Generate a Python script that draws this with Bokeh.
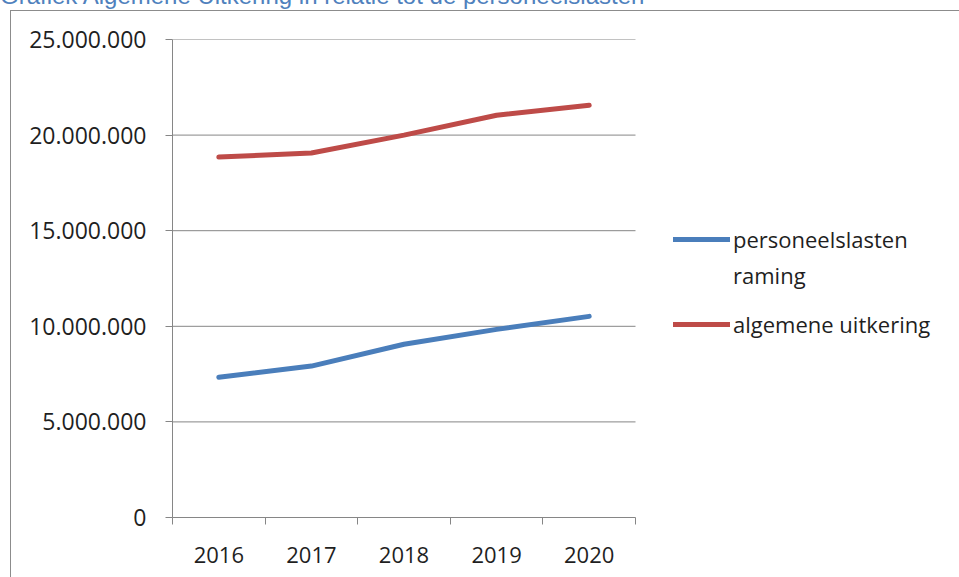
from bokeh.plotting import figure
from bokeh.models import Range1d, FixedTicker, Legend, LegendItem, Div
from bokeh.layouts import column
from bokeh.embed import file_html
from bokeh.resources import INLINE

years = ["2016", "2017", "2018", "2019", "2020"]
personeelslasten_raming = [7340000, 7920000, 9060000, 9840000, 10520000]
algemene_uitkering = [18850000, 19060000, 20000000, 21040000, 21560000]
y_tick_values = [0, 5000000, 10000000, 15000000, 20000000, 25000000]
y_tick_labels = ["0", "5.000.000", "10.000.000", "15.000.000", "20.000.000", "25.000.000"]
title_text = "Grafiek Algemene Uitkering in relatie tot de personeelslasten"
legend_labels = ["personeelslasten", "raming", "algemene uitkering"]

FONT = "Open Sans"
GRID = "#868686"
TEXT = "#1f1f1f"

W = 959
TITLE_H = 10
H = 577 - TITLE_H
LEFT, PLOT_RIGHT, FRAME_RIGHT = 172, 635, 957
TOP, BOTTOM = 39 - TITLE_H, 517 - TITLE_H

n = len(years)
x_pos = [i + 0.5 for i in range(n)]
x_bounds = [i for i in range(n + 1)]
px_per_unit = (PLOT_RIGHT - LEFT) / n
x_end = n + (FRAME_RIGHT - PLOT_RIGHT) / px_per_unit

border_css = ("linear-gradient(#8c8c8c,#8c8c8c) 10px 0px / 100% 1px no-repeat, "
              "linear-gradient(#8c8c8c,#8c8c8c) 10px 0px / 1px 100% no-repeat")

title_div = Div(text=title_text, width=W, height=TITLE_H, margin=(0, 0, 0, 0),
                styles={"position": "relative", "top": "-16px", "font-family": "Liberation Sans",
                        "font-size": "24px", "line-height": "24px", "color": "#4f81bd",
                        "white-space": "nowrap"})

p = figure(width=W, height=H, output_backend="svg", toolbar_location=None,
           x_range=Range1d(0, x_end), y_range=Range1d(0, y_tick_values[-1]),
           min_border_left=LEFT, min_border_right=W - FRAME_RIGHT,
           min_border_top=TOP, min_border_bottom=H - BOTTOM,
           margin=(0, 0, 0, 0),
           styles={"background": border_css})
p.outline_line_color = None
p.background_fill_alpha = 0
p.border_fill_alpha = 0

p.xgrid.visible = False
p.ygrid.visible = False
grid_y = y_tick_values[1:]
p.segment(x0=[0] * len(grid_y), x1=[n] * len(grid_y), y0=grid_y, y1=grid_y,
          line_color=GRID, line_width=1)

ya = p.yaxis[0]
ya.ticker = FixedTicker(ticks=y_tick_values)
ya.major_label_overrides = {v: l for v, l in zip(y_tick_values, y_tick_labels)}
ya.axis_line_color = GRID
ya.major_tick_line_color = GRID
ya.major_tick_out = 7
ya.major_tick_in = 0
ya.minor_tick_line_color = None
ya.major_label_standoff = 19
ya.major_label_text_font = FONT
ya.major_label_text_font_size = "23px"
ya.major_label_text_color = TEXT

xa = p.xaxis[0]
xa.bounds = (0, n)
xa.ticker = FixedTicker(ticks=x_pos, minor_ticks=x_bounds)
xa.major_label_overrides = {v: l for v, l in zip(x_pos, years)}
xa.axis_line_color = GRID
xa.major_tick_line_color = None
xa.minor_tick_line_color = GRID
xa.minor_tick_out = 7
xa.minor_tick_in = 0
xa.major_label_standoff = 22
xa.major_label_text_font = FONT
xa.major_label_text_font_size = "22px"
xa.major_label_text_color = TEXT

r_blue = p.line(x_pos, personeelslasten_raming, line_color="#4a7ebb", line_width=5, line_cap="round")
r_red = p.line(x_pos, algemene_uitkering, line_color="#be4b48", line_width=5, line_cap="round")
r_dummy = p.line([], [], line_alpha=0)

common = dict(glyph_width=57, glyph_height=30, label_height=30, label_standoff=3, spacing=6,
              padding=0, margin=0, border_line_color=None, background_fill_alpha=0,
              label_text_font=FONT, label_text_font_size="22px", label_text_color=TEXT)
leg_a = Legend(items=[LegendItem(label=legend_labels[0], renderers=[r_blue]),
                      LegendItem(label=legend_labels[1], renderers=[r_dummy])],
               location=(501, 227), **common)
leg_b = Legend(items=[LegendItem(label=legend_labels[2], renderers=[r_red])],
               location=(501, 178), **common)
p.add_layout(leg_a)
p.add_layout(leg_b)

layout = column(title_div, p, spacing=0)
open("out.html", "w").write(file_html(layout, INLINE))
